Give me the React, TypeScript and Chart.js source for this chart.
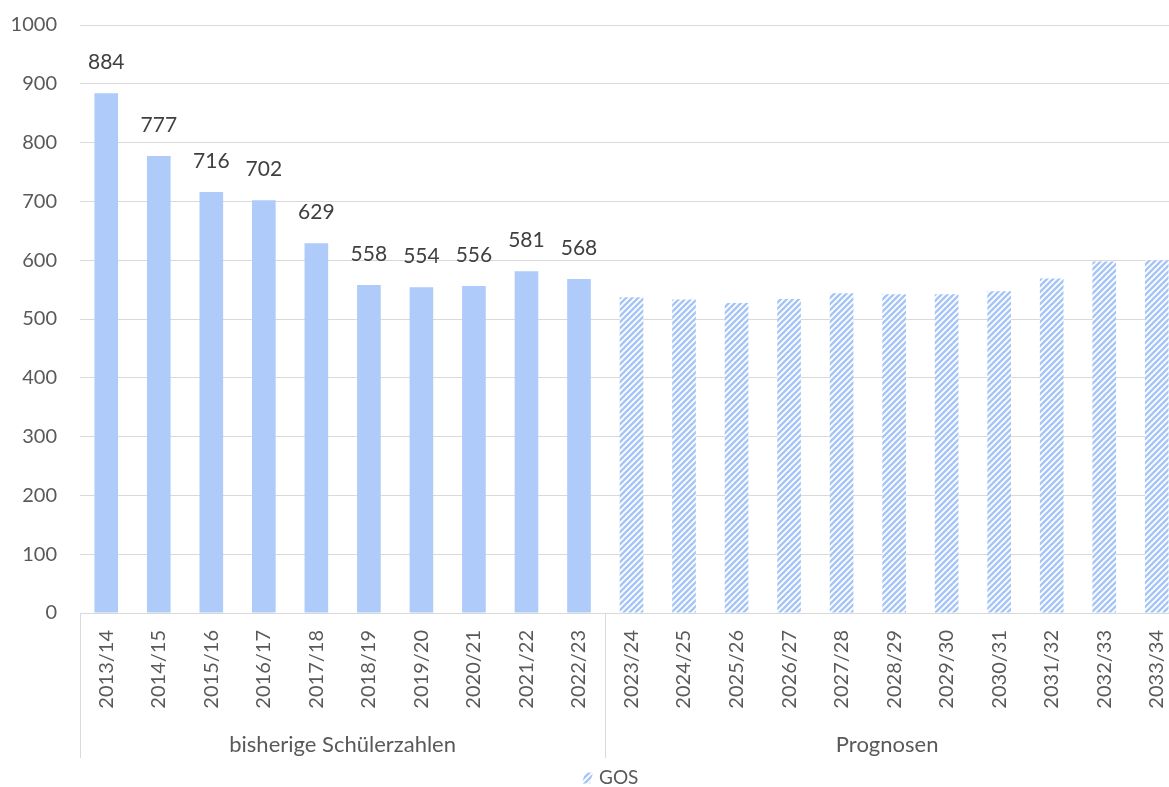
import React, { useEffect, useRef } from "react";
import { Chart, registerables } from "chart.js";

Chart.register(...registerables);

const categories = [
  "2013/14", "2014/15", "2015/16", "2016/17", "2017/18", "2018/19", "2019/20",
  "2020/21", "2021/22", "2022/23", "2023/24", "2024/25", "2025/26", "2026/27",
  "2027/28", "2028/29", "2029/30", "2030/31", "2031/32", "2032/33", "2033/34",
];
const historicValues = [884, 777, 716, 702, 629, 558, 554, 556, 581, 568];
const forecastValues = [537, 533, 527, 534, 544, 542, 542, 547, 569, 598, 600];
const groupLabels = ["bisherige Schülerzahlen", "Prognosen"];
const groupSizes = [10, 11];
const seriesName = "GOS";
const yMin = 0;
const yMax = 1000;
const yStep = 100;

const FONT = "Lato, 'Open Sans', sans-serif";
const SOLID = "#AECBFA";
const HATCH = "#A6C5F7";
const TEXT = "#595959";
const LABEL = "#404040";
const GRID = "#D9D9D9";
const VISIBLE_W = 1169;
const CANVAS_W = 1183;
const CANVAS_H = 787;

function makePattern(): CanvasPattern | string {
  const c = document.createElement("canvas");
  c.width = 6;
  c.height = 6;
  const g = c.getContext("2d");
  if (!g) return HATCH;
  g.fillStyle = "#ffffff";
  g.fillRect(0, 0, 6, 6);
  g.strokeStyle = HATCH;
  g.lineWidth = 2.4;
  g.beginPath();
  g.moveTo(-1, 7);
  g.lineTo(7, -1);
  g.moveTo(-4, 4);
  g.lineTo(4, -4);
  g.moveTo(2, 10);
  g.lineTo(10, 2);
  g.stroke();
  const p = g.createPattern(c, "repeat");
  return p || HATCH;
}

export default function App() {
  const ref = useRef<HTMLCanvasElement | null>(null);

  useEffect(() => {
    document.body.style.margin = "0";
    const canvas = ref.current;
    if (!canvas) return;
    const pattern = makePattern();
    const values = [...historicValues, ...forecastValues];
    const colors = values.map((_, i) => (i < historicValues.length ? SOLID : pattern));

    const overlay = {
      id: "overlay",
      afterDraw(chart: any) {
        const ctx = chart.ctx as CanvasRenderingContext2D;
        const xs = chart.scales.x;
        const area = chart.chartArea;
        const meta = chart.getDatasetMeta(0);
        ctx.save();
        // data labels for historic values
        ctx.font = `21px ${FONT}`;
        ctx.fillStyle = LABEL;
        ctx.textAlign = "center";
        ctx.textBaseline = "middle";
        historicValues.forEach((v, i) => {
          const bar = meta.data[i];
          ctx.fillText(String(v), bar.x, bar.y - 31);
        });
        // group separators & labels
        const step = xs.getPixelForValue(1) - xs.getPixelForValue(0);
        let start = 0;
        const bottom = area.bottom + 145;
        ctx.strokeStyle = GRID;
        ctx.lineWidth = 1;
        groupSizes.forEach((n) => {
          const x = xs.getPixelForValue(start) - step / 2;
          const px = Math.round(x) + 0.5;
          ctx.beginPath();
          ctx.moveTo(px, area.bottom);
          ctx.lineTo(px, bottom);
          ctx.stroke();
          start += n;
        });
        start = 0;
        ctx.fillStyle = TEXT;
        ctx.font = `22px ${FONT}`;
        groupSizes.forEach((n, gi) => {
          const l = xs.getPixelForValue(start) - step / 2;
          const r = Math.min(xs.getPixelForValue(start + n - 1) + step / 2, VISIBLE_W);
          ctx.fillText(groupLabels[gi], (l + r) / 2, area.bottom + 132);
          start += n;
        });
        // legend
        ctx.font = `19px ${FONT}`;
        const box = 11;
        const gap = 6;
        const lx = 582;
        const ly = 778;
        ctx.fillStyle = pattern as any;
        ctx.beginPath();
        ctx.moveTo(lx + 3, ly - box / 2);
        ctx.lineTo(lx + box, ly - box / 2);
        ctx.lineTo(lx + box - 3, ly + box / 2);
        ctx.lineTo(lx, ly + box / 2);
        ctx.closePath();
        ctx.fill();
        ctx.fillStyle = TEXT;
        ctx.textAlign = "left";
        ctx.fillText(seriesName, lx + box + gap, ly);
        ctx.restore();
      },
    };

    const chart = new Chart(canvas, {
      type: "bar",
      data: {
        labels: categories,
        datasets: [
          {
            label: seriesName,
            data: values,
            backgroundColor: colors as any,
            borderWidth: 0,
            barPercentage: 0.45,
            categoryPercentage: 1,
          },
        ],
      },
      options: {
        animation: false,
        responsive: false,
        maintainAspectRatio: false,
        layout: { padding: { top: 25, left: 0, right: 0, bottom: 0 } },
        plugins: {
          legend: { display: false },
          tooltip: { enabled: false },
        },
        scales: {
          x: {
            grid: { display: false, drawTicks: false },
            border: { display: true, color: GRID, width: 1 },
            ticks: {
              color: TEXT,
              font: { family: FONT, size: 20 },
              minRotation: 90,
              maxRotation: 90,
              autoSkip: false,
              padding: 17,
            },
            afterFit: (s: any) => {
              s.height = 174;
              s.paddingLeft = 0;
              s.paddingRight = 0;
            },
          },
          y: {
            min: yMin,
            max: yMax,
            grid: { color: GRID, lineWidth: 1, drawTicks: false },
            border: { display: false },
            ticks: {
              stepSize: yStep,
              color: TEXT,
              font: { family: FONT, size: 20 },
              padding: 23,
              callback: (v: any) => String(v),
            },
            afterFit: (s: any) => {
              s.width = 80;
              s.paddingTop = 0;
              s.paddingBottom = 0;
            },
          },
        },
      },
      plugins: [overlay],
    });
    return () => chart.destroy();
  }, []);

  return (
    <div style={{ width: VISIBLE_W, height: CANVAS_H, overflow: "hidden" }}>
      <canvas ref={ref} width={CANVAS_W} height={CANVAS_H} style={{ display: "block" }} />
    </div>
  );
}
